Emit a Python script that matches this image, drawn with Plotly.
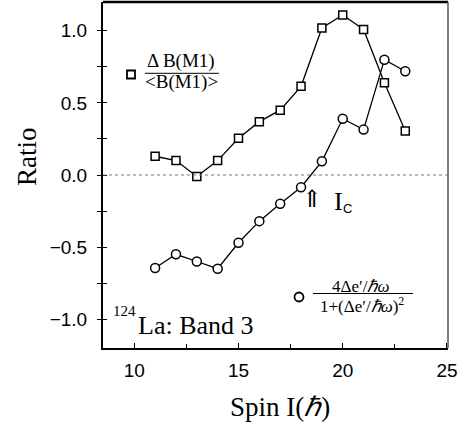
import plotly.graph_objects as go

# ---- data ----
spin = [11, 12, 13, 14, 15, 16, 17, 18, 19, 20, 21, 22, 23]
ratio_b = [0.13, 0.10, -0.01, 0.10, 0.255, 0.37, 0.45, 0.615, 1.02, 1.11, 1.01, 0.64, 0.305]
ratio_e = [-0.645, -0.55, -0.60, -0.65, -0.47, -0.32, -0.20, -0.085, 0.095, 0.39, 0.315, 0.80, 0.72]
x_ticks = [10, 15, 20, 25]
y_ticks = [-1.0, -0.5, 0.0, 0.5, 1.0]
y_tick_text = ["\u22121.0", "\u22120.5", "0.0", "0.5", "1.0"]

W_FIG, H_FIG = 469, 428
L, T, PW, PH = 103, 2, 345, 346
R = W_FIG - L - PW
B = H_FIG - T - PH

SERIF = "Liberation Serif, Times New Roman, serif"
SANS = "Liberation Sans, Arial, sans-serif"


def px(xp):
    return (xp - L) / PW


def py(yp):
    return (T + PH - yp) / PH


fig = go.Figure()

fig.add_trace(go.Scatter(
    x=spin, y=ratio_b, mode="lines+markers",
    line=dict(color="black", width=1.3),
    marker=dict(symbol="square", size=8, color="white", line=dict(color="black", width=1.5)),
    showlegend=False, cliponaxis=False))
fig.add_trace(go.Scatter(
    x=spin, y=ratio_e, mode="lines+markers",
    line=dict(color="black", width=1.3),
    marker=dict(symbol="circle", size=9, color="white", line=dict(color="black", width=1.5)),
    showlegend=False, cliponaxis=False))
# transparent copy on the overlay axis so its inside ticks are drawn
fig.add_trace(go.Scatter(x=spin, y=ratio_b, yaxis="y2", mode="markers",
                         marker=dict(opacity=0), showlegend=False, hoverinfo="skip"))

axis_common = dict(showgrid=False, zeroline=False, color="black")

fig.update_layout(
    width=W_FIG, height=H_FIG,
    margin=dict(l=L, r=R, t=T, b=B),
    paper_bgcolor="white", plot_bgcolor="white",
    xaxis=dict(**axis_common, range=[8.5, 25.05], tickvals=x_ticks,
               ticks="inside", ticklen=5, tickwidth=1.2,
               minor=dict(dtick=2.5, tick0=0, ticks="inside", ticklen=4, tickwidth=1),
               showline=True, linecolor="black", linewidth=2, mirror=False,
               tickfont=dict(family=SANS, size=19, color="black"), ticklabelstandoff=4),
    yaxis=dict(**axis_common, range=[-1.2, 1.2], tickvals=y_ticks, ticktext=y_tick_text,
               ticks="outside", ticklen=4, tickwidth=1.2,
               minor=dict(dtick=0.25, tick0=0, ticks="outside", ticklen=4, tickwidth=1),
               showline=True, linecolor="black", linewidth=2, mirror=False,
               tickfont=dict(family=SANS, size=19, color="black"), ticklabelstandoff=6),
    yaxis2=dict(overlaying="y", side="left", anchor="x", range=[-1.2, 1.2], tickvals=y_ticks,
                showticklabels=False, ticks="inside", ticklen=4, tickwidth=1.2,
                minor=dict(dtick=0.25, tick0=0, ticks="inside", ticklen=4, tickwidth=1),
                showgrid=False, zeroline=False, showline=False, tickcolor="black"),
)

shapes = []
# top border and right border
shapes.append(dict(type="line", xref="paper", yref="paper", x0=0, x1=1, y0=1, y1=1,
                   line=dict(color="black", width=2.5)))
shapes.append(dict(type="line", xref="paper", yref="paper", x0=1, x1=1, y0=0, y1=1,
                   line=dict(color="#555", width=1.5)))
# zero dotted line
shapes.append(dict(type="line", xref="paper", yref="y", x0=0, x1=1, y0=0, y1=0,
                   line=dict(color="#777", width=1, dash="dot")))
# legend 1 symbol + fraction bar
shapes.append(dict(type="rect", xref="paper", yref="paper",
                   x0=px(127), x1=px(135), y0=py(78.5), y1=py(70.5),
                   line=dict(color="black", width=1.8), fillcolor="white"))
shapes.append(dict(type="line", xref="paper", yref="paper",
                   x0=px(145), x1=px(219), y0=py(73.3), y1=py(73.3),
                   line=dict(color="black", width=1)))
# legend 2 symbol + fraction bar
shapes.append(dict(type="circle", xref="paper", yref="paper",
                   x0=px(294.5), x1=px(303.5), y0=py(301.5), y1=py(292.5),
                   line=dict(color="black", width=1.8), fillcolor="white"))
shapes.append(dict(type="line", xref="paper", yref="paper",
                   x0=px(313), x1=px(413), y0=py(293.5), y1=py(293.5),
                   line=dict(color="black", width=1)))
fig.update_layout(shapes=shapes)


def ann(text, x, y, size, family=SERIF, xanchor="center", yanchor="middle", angle=0):
    fig.add_annotation(text=text, xref="paper", yref="paper", x=px(x), y=py(y),
                       xanchor=xanchor, yanchor=yanchor, showarrow=False, textangle=angle,
                       font=dict(family=family, size=size, color="black"))


ann("\u0394 B(M1)", 181, 61, 19)
ann("&lt;B(M1)&gt;", 181, 82, 19)
ann("4\u0394e\u2032/<i>\u210f\u03c9</i>", 360, 286, 17)
ann("1+(\u0394e\u2032/<i>\u210f\u03c9</i>)<sup>2</sup>", 362, 305, 17)
ann("124", 138, 311, 15, xanchor="right")
ann("La: Band 3", 136, 325, 26, xanchor="left")
ann("\u21d1", 312, 199, 24, family="DejaVu Serif, DejaVu Sans")
ann("I", 338, 201, 26)
ann("C", 347, 208, 13, family=SANS)
ann("Ratio", 27, 157, 27, angle=-90)
ann("Spin I(<i>\u210f</i>)", 280, 407, 27)

fig.write_html("out.html", post_script="document.body.style.margin='0';",
               config={"displayModeBar": False})
